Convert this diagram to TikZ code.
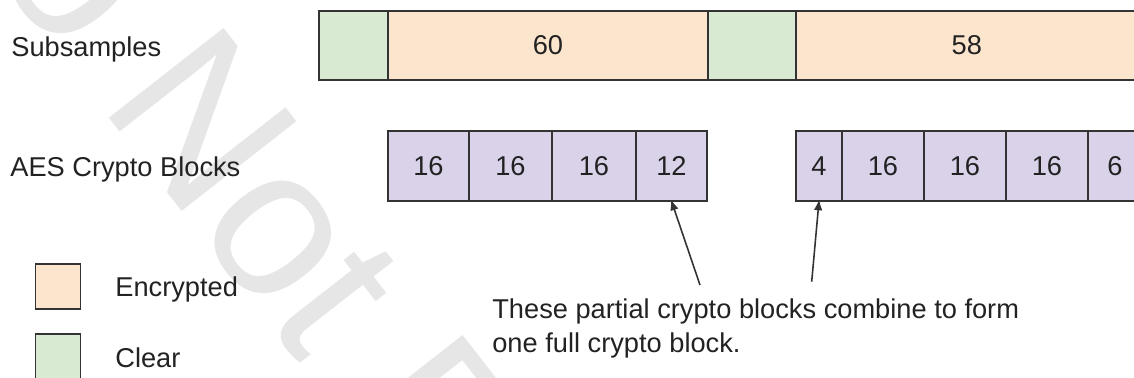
\documentclass[tikz,border=0pt]{standalone}
\usepackage{fontspec}
\setmainfont{Liberation Sans}
\usetikzlibrary{positioning,arrows.meta}

\definecolor{clearfill}{HTML}{D9EAD3}
\definecolor{encfill}{HTML}{FCE5CD}
\definecolor{blockfill}{HTML}{D9D2E9}
\definecolor{edge}{HTML}{333333}
\definecolor{inkgray}{HTML}{222222}
\definecolor{wmgray}{HTML}{E6E6E6}

\tikzset{
  seg/.style={draw=edge, line width=1.1pt, rectangle, inner sep=0pt, outer sep=0pt, minimum height=1.38cm, text=inkgray},
  clearseg/.style={seg, fill=clearfill},
  encseg/.style={seg, fill=encfill},
  cblock/.style={draw=edge, line width=1.1pt, fill=blockfill, inner sep=0pt, outer sep=0pt, minimum height=1.4cm, text=inkgray},
  lbl/.style={text=inkgray, inner sep=0pt, anchor=base west},
}

\begin{document}
\begin{tikzpicture}[x=0.02cm, y=-0.02cm, >={Latex[length=0.22cm,width=0.17cm]}, font=\fontsize{15.5pt}{19.9pt}\selectfont]
            \useasboundingbox (0,0) rectangle (1134,378);
            \clip (0,0) rectangle (1134,378);

            % watermark
            \node[text=wmgray, rotate=-52, anchor=base west, inner sep=0pt, font=\fontsize{120.6pt}{140pt}\selectfont] (wmark) at (-105,-155) {Do Not Distribute};

            % row labels
            \node[lbl] (lsub) at (11,56.5) {Subsamples};
            \node[lbl] (laes) at (10,176.5) {AES Crypto Blocks};

            % subsamples
            \node[clearseg, minimum width=1.38cm, anchor=west] (clr1) at (319,45.5) {};
            \node[encseg, minimum width=6.40cm, right=0pt of clr1] (enc1) {60};
            \node[clearseg, minimum width=1.76cm, right=0pt of enc1] (clr2) {};
            \node[encseg, minimum width=6.84cm, right=0pt of clr2] (enc2) {58};

            % crypto blocks
            \node[cblock, minimum width=1.62cm, anchor=west] (a1) at (388,166) {16};
            \node[cblock, minimum width=1.66cm, right=0pt of a1] (a2) {16};
            \node[cblock, minimum width=1.68cm, right=0pt of a2] (a3) {16};
            \node[cblock, minimum width=1.42cm, right=0pt of a3] (a4) {12};

            \node[cblock, minimum width=0.92cm, anchor=west] (b1) at (796,166) {4};
            \node[cblock, minimum width=1.64cm, right=0pt of b1] (b2) {16};
            \node[cblock, minimum width=1.64cm, right=0pt of b2] (b3) {16};
            \node[cblock, minimum width=1.64cm, right=0pt of b3] (b4) {16};
            \node[cblock, minimum width=1.08cm, right=0pt of b4] (b5) {6};

            % legend
            \node[encseg, minimum width=0.9cm, minimum height=0.9cm] (kenc) at (58,286.5) {};
            \node[clearseg, minimum width=0.9cm, minimum height=0.9cm] (kclr) at (58,356.5) {};
            \node[lbl] (tenc) at (115,297) {Encrypted};
            \node[lbl] (tclr) at (115,368) {Clear};

            % note (base = last line)
            \node[lbl, align=left] (note) at (492,353) {These partial crypto blocks combine to form\\one full crypto block.};
            \coordinate (p1) at (700,285);
            \coordinate (p2) at (811.7,281.7);
            \draw[->, line width=0.9pt, draw=edge, shorten >=-1pt] (p1) -- (a4.south);
            \draw[->, line width=0.9pt, draw=edge, shorten >=-1pt] (p2) -- (b1.south);
\end{tikzpicture}
\end{document}
